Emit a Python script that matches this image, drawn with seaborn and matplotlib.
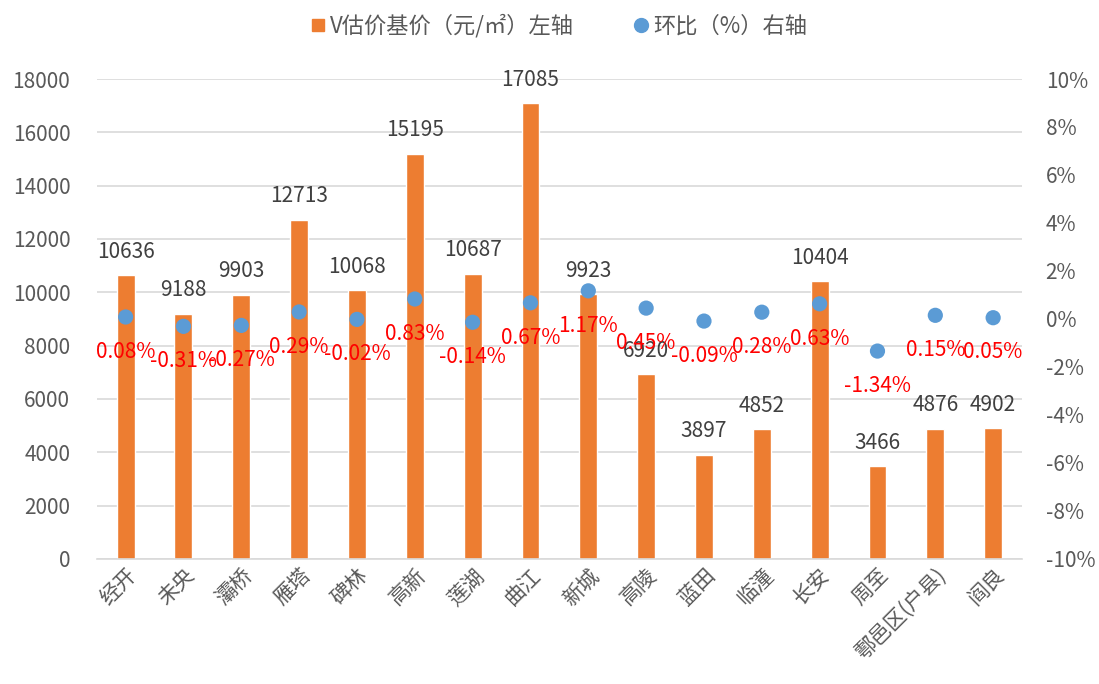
import matplotlib
matplotlib.use('Agg')
import matplotlib.pyplot as plt
from matplotlib.lines import Line2D
import seaborn as sns
import pandas as pd

# data
districts = ['经开', '未央', '灞桥', '雁塔', '碑林', '高新', '莲湖', '曲江', '新城',
             '高陵', '蓝田', '临潼', '长安', '周至', '鄠邑区(户县)', '阎良']
base_price = [10636, 9188, 9903, 12713, 10068, 15195, 10687, 17085, 9923,
              6920, 3897, 4852, 10404, 3466, 4876, 4902]
mom_pct = [0.08, -0.31, -0.27, 0.29, -0.02, 0.83, -0.14, 0.67, 1.17,
           0.45, -0.09, 0.28, 0.63, -1.34, 0.15, 0.05]
left_ticks = list(range(0, 18001, 2000))
right_ticks = list(range(-10, 11, 2))

orange = '#ED7D31'
blue = '#5B9BD5'
grey = '#595959'

sns.set_style('white')
plt.rcParams['font.family'] = ['Noto Sans CJK SC', 'DejaVu Sans']

df = pd.DataFrame({'district': districts, 'price': base_price, 'pct': mom_pct})

fig = plt.figure(figsize=(10.99, 6.84), dpi=100)
ax = fig.add_axes([0.088, 0.183, 0.842, 0.7015])

ax.set_axisbelow(True)
ax.yaxis.grid(True, color='#D9D9D9', linewidth=1.2)
sns.barplot(data=df, x='district', y='price', color=orange, width=0.31,
            saturation=1, ax=ax, zorder=2)
ax.set_ylim(0, 18000)
ax.set_yticks(left_ticks)
ax.set_xlim(-0.5, len(districts) - 0.5)
ax.set_xlabel('')
ax.set_ylabel('')
ax.tick_params(axis='y', labelsize=15, labelcolor=grey, length=0, pad=19)
ax.tick_params(axis='x', labelsize=15, labelcolor=grey, length=0, pad=4)
plt.setp(ax.get_xticklabels(), rotation=45, ha='right', rotation_mode='anchor')
for s in ['top', 'left', 'right']:
    ax.spines[s].set_visible(False)
ax.spines['bottom'].set_color('#D9D9D9')
ax.spines['bottom'].set_linewidth(1.2)

# value labels above bars
for i, v in enumerate(base_price):
    ax.annotate(str(v), (i, v), xytext=(0, 9), textcoords='offset points',
                ha='center', va='bottom', fontsize=15, color='#404040')

ax2 = ax.twinx()
sns.scatterplot(data=df, x='district', y='pct', color=blue, s=120,
                edgecolor='none', ax=ax2, zorder=3)
ax2.set_ylim(-10, 10)
ax2.set_yticks(right_ticks)
ax2.set_yticklabels([f'{t}%' for t in right_ticks])
ax2.set_ylabel('')
ax2.tick_params(axis='y', labelsize=15, labelcolor=grey, length=0, pad=17)
for s in ax2.spines.values():
    s.set_visible(False)

# red percentage labels below points
for i, p in enumerate(mom_pct):
    ax2.annotate(f'{p:.2f}%', (i, p), xytext=(0, -25), textcoords='offset points',
                 ha='center', va='center', fontsize=15, color='red')

handles = [
    Line2D([], [], marker='s', color=orange, linestyle='none', markersize=9),
    Line2D([], [], marker='o', color=blue, linestyle='none', markersize=10),
]
fig.legend(handles, ['V估价基价（元/㎡）左轴', '环比（%）右轴'],
           loc='center', bbox_to_anchor=(0.508, 0.962), ncol=2, frameon=False,
           fontsize=16, labelcolor=grey, handlelength=0.8, handletextpad=0.15,
           columnspacing=2.6)

fig.savefig('out.png', dpi=100)
